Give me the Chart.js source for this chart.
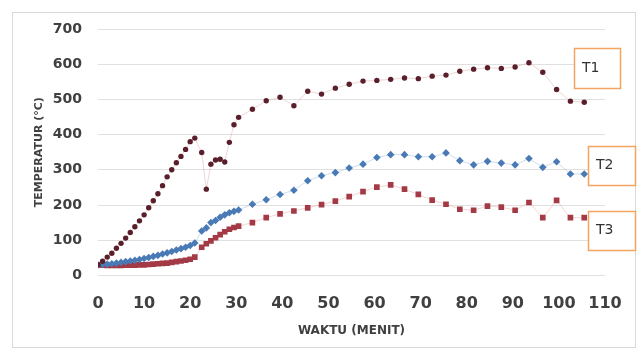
<!DOCTYPE html>
<html>
<head>
<meta charset="utf-8">
<script src="https://cdn.jsdelivr.net/npm/chart.js@4"></script>
<style>
  body { margin: 0; background: #fff; }
</style>
</head>
<body>
<canvas id="chart" width="641" height="352"></canvas>
<script>
// waktu (menit)
var TIME = [0, 1, 2, 3, 4, 5, 6, 7, 8, 9, 10, 11, 12, 13, 14, 15, 16, 17, 18, 19, 20, 21,
    22.5, 23.5, 24.5, 25.5, 26.5, 27.5, 28.5, 29.5,
    30.5, 33.5, 36.5, 39.5, 42.5, 45.5, 48.5, 51.5, 54.5, 57.5, 60.5, 63.5, 66.5,
    69.5, 72.5, 75.5, 78.5, 81.5, 84.5, 87.5, 90.5, 93.5, 96.5, 99.5, 102.5, 105.5];

var T1 = [30, 40, 52, 63, 77, 91, 106, 122, 138, 155, 172, 192, 212, 232, 255, 280, 300, 320, 338, 358, 380, 390,
    349, 245, 316, 328, 330, 322, 378, 428,
    449, 472, 496, 506, 482, 523, 515, 532, 543, 552, 554, 557, 561,
    559, 566, 569, 580, 586, 590, 588, 592, 604, 577, 528, 495, 492];

var T2 = [30, 31, 32, 33, 35, 37, 39, 41, 43, 45, 48, 51, 54, 57, 61, 64, 68, 72, 76, 80, 85, 92,
    126, 135, 150, 156, 165, 172, 178, 182,
    186, 202, 215, 230, 242, 269, 283, 292, 305, 316, 335, 343, 343,
    337, 337, 348, 326, 314, 324, 319, 314, 332, 307, 323, 288, 288];

var T3 = [30, 29, 28, 28, 28, 28, 29, 29, 29, 30, 30, 31, 32, 33, 34, 35, 37, 39, 41, 43, 46, 52,
    80, 90, 98, 107, 116, 124, 131, 136,
    140, 150, 164, 175, 183, 192, 201, 211, 224, 238, 251, 257, 245,
    230, 214, 202, 188, 185, 197, 194, 185, 207, 164, 213, 164, 164];

var BOX_LABELS = ['T1', 'T2', 'T3'];

function toPoints(values) {
    var pts = [];
    for (var i = 0; i < values.length; i++) {
        pts.push({ x: TIME[i], y: values[i] });
    }
    return pts;
}

// frame round the chart + the T1/T2/T3 boxes
var decor = {
    id: 'decor',
    beforeDraw: function(chart) {
        var ctx = chart.ctx;
        ctx.save();
        ctx.fillStyle = '#fff';
        ctx.fillRect(0, 0, chart.width, chart.height);
        ctx.strokeStyle = '#d9d9d9';
        ctx.lineWidth = 1;
        ctx.strokeRect(12.5, 12.5, 623, 335);
        ctx.restore();
    },
    afterDraw: function(chart) {
        var ctx = chart.ctx;
        var boxes = [[574, 48, 46, 40], [588, 146, 47, 39], [588, 211, 47, 39]];
        ctx.save();
        ctx.font = '14px "DejaVu Sans"';
        ctx.textBaseline = 'middle';
        for (var i = 0; i < boxes.length; i++) {
            var b = boxes[i];
            ctx.fillStyle = '#fff';
            ctx.fillRect(b[0], b[1], b[2], b[3]);
            ctx.strokeStyle = '#f4a460';
            ctx.lineWidth = 1.5;
            ctx.strokeRect(b[0] + 0.5, b[1] + 0.5, b[2], b[3]);
            ctx.fillStyle = '#333';
            ctx.fillText(BOX_LABELS[i], b[0] + 8, b[1] + b[3] / 2);
        }
        ctx.restore();
    }
};

var data = {
    datasets: [{
        label: 'T1',
        data: toPoints(T1),
        showLine: true,
        borderColor: 'rgba(200,120,120,0.3)',
        borderWidth: 1,
        pointStyle: 'circle',
        pointRadius: 2.7,
        pointBackgroundColor: '#5a1f2a',
        pointBorderColor: '#5a1f2a',
        pointBorderWidth: 0
    }, {
        label: 'T2',
        data: toPoints(T2),
        showLine: true,
        borderColor: 'rgba(110,160,210,0.35)',
        borderWidth: 1,
        pointStyle: 'rectRot',
        pointRadius: 3.8,
        pointBackgroundColor: '#4a7ab5',
        pointBorderColor: '#4a7ab5',
        pointBorderWidth: 0
    }, {
        label: 'T3',
        data: toPoints(T3),
        showLine: true,
        borderColor: 'rgba(230,130,130,0.35)',
        borderWidth: 1,
        pointStyle: 'rect',
        pointRadius: 4,
        pointBackgroundColor: '#a33a45',
        pointBorderColor: '#a33a45',
        pointBorderWidth: 0
    }]
};

var ctx = document.getElementById('chart').getContext('2d');
var myChart = new Chart(ctx, {
    type: 'scatter',
    data: data,
    plugins: [decor],
    options: {
        responsive: false,
        animation: false,
        layout: { padding: { left: 0, right: 36, top: 29, bottom: 14 } },
        plugins: {
            legend: { display: false },
            tooltip: { enabled: false }
        },
        scales: {
            x: {
                type: 'linear',
                min: 0,
                max: 110,
                grid: { display: false, drawTicks: false },
                border: { display: false },
                ticks: {
                    stepSize: 10,
                    padding: 19,
                    maxRotation: 0,
                    color: '#404040',
                    font: { family: 'DejaVu Sans', size: 16, weight: 'bold' }
                },
                title: {
                    display: true,
                    text: 'WAKTU (MENIT)',
                    color: '#404040',
                    padding: { top: -9, bottom: 0 },
                    font: { family: 'DejaVu Sans', size: 12, weight: 'bold' }
                }
            },
            y: {
                min: 0,
                max: 700,
                afterFit: function(scale) { scale.width = 98; },
                grid: { color: '#e0e0e0', drawTicks: false },
                border: { display: false },
                ticks: {
                    stepSize: 100,
                    padding: 16,
                    color: '#404040',
                    font: { family: 'DejaVu Sans', size: 14, weight: 'bold' }
                },
                title: {
                    display: true,
                    text: 'TEMPERATUR (°C)',
                    color: '#404040',
                    padding: { top: 33, bottom: 0 },
                    font: { family: 'DejaVu Sans', size: 11, weight: 'bold' }
                }
            }
        }
    }
});
</script>
</body>
</html>
